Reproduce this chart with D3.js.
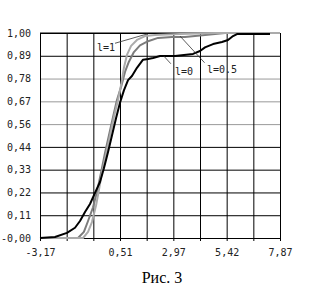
<!DOCTYPE html>
<html>
<head>
<meta charset="utf-8">
<script src="https://cdn.jsdelivr.net/npm/d3@7"></script>
<style>
  body { margin: 0; background: #fff; }
  text { font-family: "DejaVu Sans Mono", monospace; }
</style>
</head>
<body>
<svg id="chart" width="320" height="290"></svg>
<script>
// x grid: 9 equal steps from -3.17 to 7.87, labels on some of them
const xMin = -3.17, xMax = 7.87;
const xLabels = ["-3,17", "", "", "0,51", "", "2,97", "", "5,42", "", "7,87"];
const yLabels = ["-0,00", "0,11", "0,22", "0,33", "0,44", "0,56", "0,67", "0,78", "0,89", "1,00"];
const yGrey = [5, 6, 7]; // grid lines that come out grey in the scan

// l = 0 (black)
const v0 = [-3.17, -2.48, -1.93, -1.56, -1.33, -1.10, -0.87, -0.64, -0.41, -0.23, -0.04, 0.14, 0.33, 0.51, 0.69, 0.88, 1.06, 1.29, 1.57, 1.80, 2.03, 2.35, 3.04, 3.87, 4.19, 4.42, 4.79, 5.20, 5.48, 5.71, 5.89, 7.41];
const p0 = [0, 0.005, 0.025, 0.05, 0.083, 0.127, 0.166, 0.22, 0.273, 0.34, 0.42, 0.50, 0.585, 0.66, 0.72, 0.77, 0.79, 0.83, 0.87, 0.873, 0.878, 0.888, 0.888, 0.898, 0.912, 0.93, 0.946, 0.956, 0.966, 0.985, 0.995, 0.995];
// l = 0.5 (dark grey)
const v05 = [-3.17, -1.42, -1.15, -0.96, -0.73, -0.55, -0.36, -0.18, 0.0, 0.19, 0.37, 0.56, 0.74, 0.92, 1.15, 1.43, 1.80, 2.26, 2.90, 3.50, 4.42, 5.34, 7.87];
const p05 = [0, 0, 0.03, 0.083, 0.15, 0.224, 0.32, 0.415, 0.50, 0.59, 0.673, 0.737, 0.81, 0.86, 0.907, 0.94, 0.96, 0.976, 0.98, 0.98, 0.99, 1.0, 1.0];
// l = 1 (light grey)
const v1 = [-3.17, -1.19, -0.96, -0.78, -0.59, -0.46, -0.32, -0.13, 0.05, 0.23, 0.42, 0.56, 0.69, 0.83, 1.02, 1.29, 1.66, 2.12, 3.27, 4.88, 7.87];
const p1 = [0, 0, 0.03, 0.078, 0.16, 0.234, 0.32, 0.41, 0.50, 0.59, 0.673, 0.746, 0.83, 0.893, 0.937, 0.966, 0.985, 0.99, 0.995, 1.0, 1.0];

const series = [
  {name: "l=0.5", v: v05, p: p05, color: "#7c7c7c"},
  {name: "l=1", v: v1, p: p1, color: "#ababab"},
  {name: "l=0", v: v0, p: p0, color: "#000"}
];

// label text, text anchor point, leader from -> to (all in data units)
const notes = [
  {t: "l=1", tx: -0.55, ty: 0.91, a: [0.28, 0.95], b: [1.75, 0.995]},
  {t: "l=0", tx: 3.04, ty: 0.795, a: [2.85, 0.85], b: [2.52, 0.888]},
  {t: "l=0.5", tx: 4.51, ty: 0.805, a: [4.4, 0.855], b: [3.27, 0.985]}
];

const svg = d3.select("#chart");
const margin = {left: 40, right: 40, top: 33, bottom: 52};
const width = +svg.attr("width"), height = +svg.attr("height");

const x = d3.scaleLinear().domain([xMin, xMax]).range([margin.left, width - margin.right]);
const y = d3.scaleLinear().domain([0, 1]).range([height - margin.bottom, margin.top]);
const plotH = y(0) - y(1), plotW = x(xMax) - x(xMin);

const xTicks = xLabels.map((d, i) => xMin + i * (xMax - xMin) / 9);
const yTicks = yLabels.map((d, i) => i / 9);

// y axis + horizontal grid
const ya = svg.append("g")
  .attr("transform", `translate(${margin.left},0)`)
  .call(d3.axisLeft(y).tickValues(yTicks).tickSizeInner(-plotW).tickSizeOuter(0)
    .tickPadding(9).tickFormat((d, i) => yLabels[i]));
ya.select(".domain").remove();
ya.selectAll(".tick line")
  .attr("stroke", (d, i) => yGrey.includes(i) ? "#999" : "#000");
ya.selectAll(".tick text").attr("font-size", 10).attr("fill", "#222")
  .attr("font-family", "DejaVu Sans Mono");

// x axis + vertical grid
const xa = svg.append("g")
  .attr("transform", `translate(0,${y(0)})`)
  .call(d3.axisBottom(x).tickValues(xTicks).tickSizeInner(-plotH).tickSizeOuter(0)
    .tickPadding(11).tickFormat((d, i) => xLabels[i]));
xa.select(".domain").attr("stroke", "#000");
xa.selectAll(".tick line").attr("y1", 3).attr("stroke", "#000");
xa.selectAll(".tick text").attr("font-size", 10).attr("fill", "#222")
  .attr("font-family", "DejaVu Sans Mono");

// top border
svg.append("line")
  .attr("x1", x(xMin)).attr("x2", x(xMax)).attr("y1", y(1)).attr("y2", y(1))
  .attr("stroke", "#000");

const line = d3.line().x(d => x(d[0])).y(d => y(d[1])).curve(d3.curveLinear);

svg.append("g").selectAll("path")
  .data(series)
  .enter().append("path")
  .attr("fill", "none")
  .attr("stroke", d => d.color)
  .attr("stroke-width", 2)
  .attr("stroke-linejoin", "round")
  .attr("d", d => line(d.v.map((v, i) => [v, d.p[i]])));

// annotations
const ng = svg.append("g");
ng.selectAll("line")
  .data(notes)
  .enter().append("line")
  .attr("x1", d => x(d.a[0])).attr("y1", d => y(d.a[1]))
  .attr("x2", d => x(d.b[0])).attr("y2", d => y(d.b[1]))
  .attr("stroke", "#333").attr("stroke-width", 0.8);
ng.selectAll("text")
  .data(notes)
  .enter().append("text")
  .attr("x", d => x(d.tx)).attr("y", d => y(d.ty))
  .attr("font-size", 10).attr("fill", "#222")
  .text(d => d.t);

// caption
svg.append("text")
  .attr("x", 162).attr("y", 283)
  .attr("text-anchor", "middle")
  .style("font-family", "Liberation Serif, serif")
  .attr("font-size", 16)
  .text("Рис. 3");
</script>
</body>
</html>
